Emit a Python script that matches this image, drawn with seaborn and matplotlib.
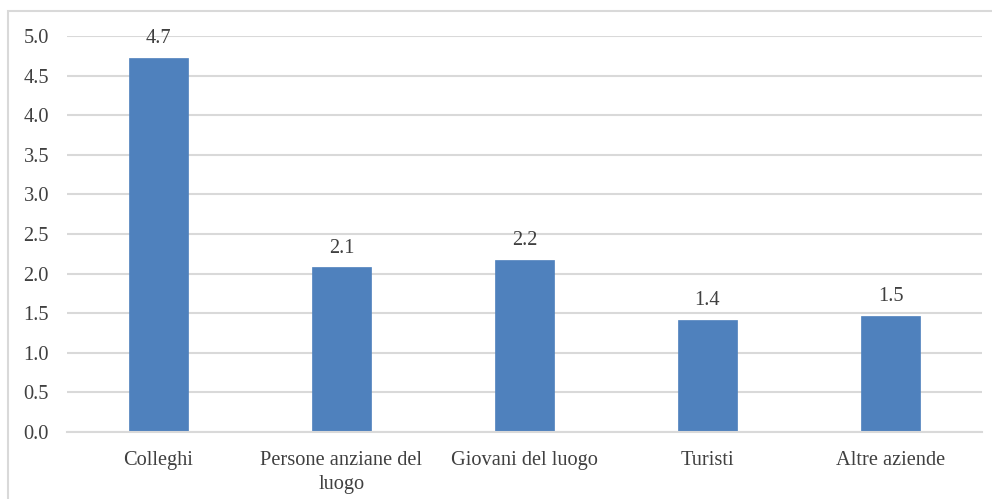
import matplotlib
matplotlib.use("Agg")
import matplotlib.pyplot as plt
import seaborn as sns
import pandas as pd
from matplotlib.patches import Rectangle

categories = ["Colleghi", "Persone anziane del\nluogo", "Giovani del luogo", "Turisti", "Altre aziende"]
values = [4.72, 2.08, 2.17, 1.42, 1.47]
value_labels = ["4.7", "2.1", "2.2", "1.4", "1.5"]
yticks = [0.0, 0.5, 1.0, 1.5, 2.0, 2.5, 3.0, 3.5, 4.0, 4.5, 5.0]

sns.set_theme(style="white")
plt.rcParams['font.family'] = ['Liberation Serif', 'DejaVu Serif']

text_color = "#404040"
grid_color = "#D9D9D9"
bar_color = "#4F81BD"
fs = 14.7

fig = plt.figure(figsize=(9.92, 4.99), dpi=100)
ax = fig.add_axes([67/992, 1-432/499, (982-67)/992, (432-36)/499])

df = pd.DataFrame({"cat": categories, "val": values})
sns.barplot(data=df, x="cat", y="val", color=bar_color, width=0.32, ax=ax,
            saturation=1, edgecolor=bar_color, linewidth=0.5)

ax.set_ylim(0, 5.0)
ax.set_yticks(yticks)
ax.set_yticklabels([f"{t:.1f}" for t in yticks])
ax.set_xlim(-0.5, len(categories) - 0.5)
ax.set_xlabel("")
ax.set_ylabel("")
ax.grid(axis="y", color=grid_color, linewidth=1.5)
ax.set_axisbelow(True)
for s in ["top", "right", "left"]:
    ax.spines[s].set_visible(False)
ax.spines["bottom"].set_color(grid_color)
ax.spines["bottom"].set_linewidth(1.5)
ax.tick_params(axis="y", length=0, pad=13, labelsize=fs, labelcolor=text_color)
ax.tick_params(axis="x", length=0, pad=14, labelsize=fs, labelcolor=text_color)
for lab in ax.get_xticklabels():
    lab.set_linespacing(1.3)

for i, (v, s) in enumerate(zip(values, value_labels)):
    ax.annotate(s, xy=(i, v), xytext=(0, 7), textcoords="offset points",
                ha="center", va="bottom", fontsize=fs, color=text_color)

fig.patches.append(Rectangle((8/992, -0.1), 1.2, 1 - 11/499 + 0.1,
                             transform=fig.transFigure, fill=False,
                             edgecolor=grid_color, linewidth=1.5))

fig.savefig("out.png", dpi=100)
